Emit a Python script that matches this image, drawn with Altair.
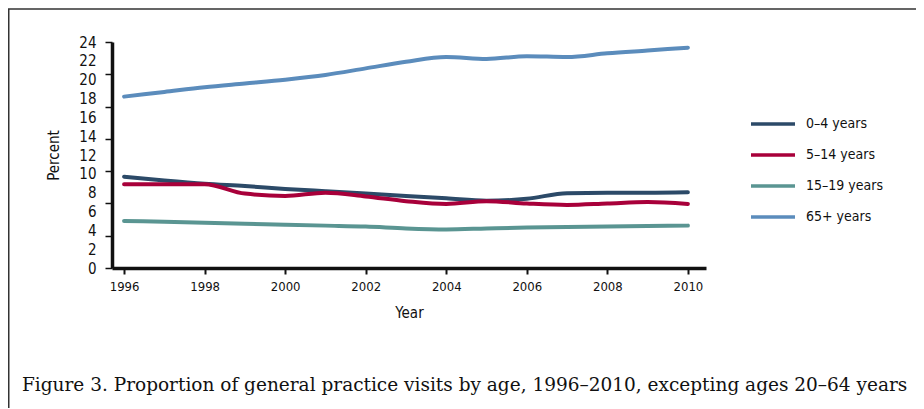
import altair as alt
import pandas as pd

years = list(range(1996, 2011))
age_0_4 = [9.7, 9.3, 8.95, 8.7, 8.4, 8.15, 7.9, 7.65, 7.4, 7.15, 7.35, 7.95, 8.0, 8.0, 8.05]
age_5_14 = [8.9, 8.9, 8.9, 7.9, 7.65, 8.0, 7.6, 7.1, 6.8, 7.1, 6.85, 6.7, 6.85, 7.0, 6.8]
age_15_19 = [5.0, 4.9, 4.8, 4.7, 4.6, 4.5, 4.4, 4.2, 4.1, 4.2, 4.3, 4.35, 4.4, 4.45, 4.5]
age_65 = [18.2, 18.7, 19.2, 19.6, 20.0, 20.5, 21.2, 21.9, 22.4, 22.2, 22.5, 22.4, 22.8, 23.1, 23.4]

series_names = ["0–4 years", "5–14 years", "15–19 years", "65+ years"]
series_colors = ["#2c4a68", "#a8003a", "#5a9592", "#5b8cbc"]
y_label_values = list(range(0, 26, 2))
y_tick_values = [24 * k / 7 for k in range(8)]
x_tick_values = list(range(1996, 2011, 2))
caption = "Figure 3. Proportion of general practice visits by age, 1996–2010, excepting ages 20–64 years"

rows = []
for name, vals in zip(series_names, [age_0_4, age_5_14, age_15_19, age_65]):
    for yr, v in zip(years, vals):
        rows.append({"Year": yr, "Percent": v, "Series": name})
df = pd.DataFrame(rows)

FONT = "Liberation Sans Narrow, DejaVu Sans Condensed, Roboto Condensed, sans-serif"

W, H = 594, 226
PL, PT = 104, 34
TOTAL_W, TOTAL_H = 908, 400

xscale = alt.Scale(domain=[1995.7, 2010.45], nice=False, zero=False)
yscale = alt.Scale(domain=[0, 24], nice=False)

x_axis = alt.Axis(
    values=x_tick_values, format="d", title="Year", labelFont=FONT, labelFontSize=13,
    labelColor="#111", tickSize=6, tickWidth=2, tickColor="#111", domainWidth=3.5,
    domainColor="#111", labelPadding=6, titleFont=FONT, titleFontSize=15,
    titleFontWeight="normal", titlePadding=12, titleColor="#111", grid=False)

lines = alt.Chart(df).mark_line(strokeWidth=4, interpolate="monotone", strokeCap="round").encode(
    x=alt.X("Year:Q", scale=xscale, axis=x_axis),
    y=alt.Y("Percent:Q", scale=yscale, axis=alt.Axis(
        values=y_label_values, title="Percent", orient="left", labelFont=FONT, labelFontSize=15,
        labelColor="#111", tickSize=0, labelPadding=16, domainWidth=3.5, domainColor="#111",
        titleFont=FONT, titleFontSize=15, titleFontWeight="normal", titleColor="#111",
        titlePadding=17, grid=False)),
    color=alt.Color("Series:N", sort=series_names,
                    scale=alt.Scale(domain=series_names, range=series_colors),
                    legend=alt.Legend(title=None, orient="none", legendX=637, legendY=58,
                                      symbolType="stroke", symbolSize=1936, symbolStrokeWidth=3.5,
                                      labelFont=FONT, labelFontSize=14, labelColor="#111",
                                      labelOffset=9, rowPadding=0)),
    order=alt.Order("Year:Q"),
)

ticks = alt.Chart(df).mark_point(opacity=0).encode(
    x=alt.X("Year:Q", scale=xscale, axis=x_axis),
    y=alt.Y("Percent:Q", scale=yscale, axis=alt.Axis(
        values=y_tick_values, orient="left", labels=False, domain=False, title=None,
        tickSize=7, tickWidth=1.5, tickColor="#111", grid=False)),
)

one_row = pd.DataFrame({"caption": [caption]})
frame = alt.Chart(one_row).mark_rect(fillOpacity=0, stroke="#333", strokeWidth=1.5).encode(
    x=alt.value(-PL + 0.75), x2=alt.value(W + 400), y=alt.value(-PT + 1), y2=alt.value(H + 400))

caption_text = alt.Chart(one_row).mark_text(
    font="DejaVu Serif", fontSize=18.5, color="#111", align="left", baseline="alphabetic"
).encode(text="caption:N", x=alt.value(-90), y=alt.value(349))

chart = alt.layer(frame, lines, ticks, caption_text).resolve_axis(y="independent").properties(
    width=W, height=H,
    autosize=alt.AutoSizeParams(type="none"),
    padding={"left": PL, "top": PT, "right": TOTAL_W - PL - W, "bottom": TOTAL_H - PT - H},
).configure_view(stroke=None)

chart.save("out.html", embed_options={"renderer": "svg", "actions": False})
